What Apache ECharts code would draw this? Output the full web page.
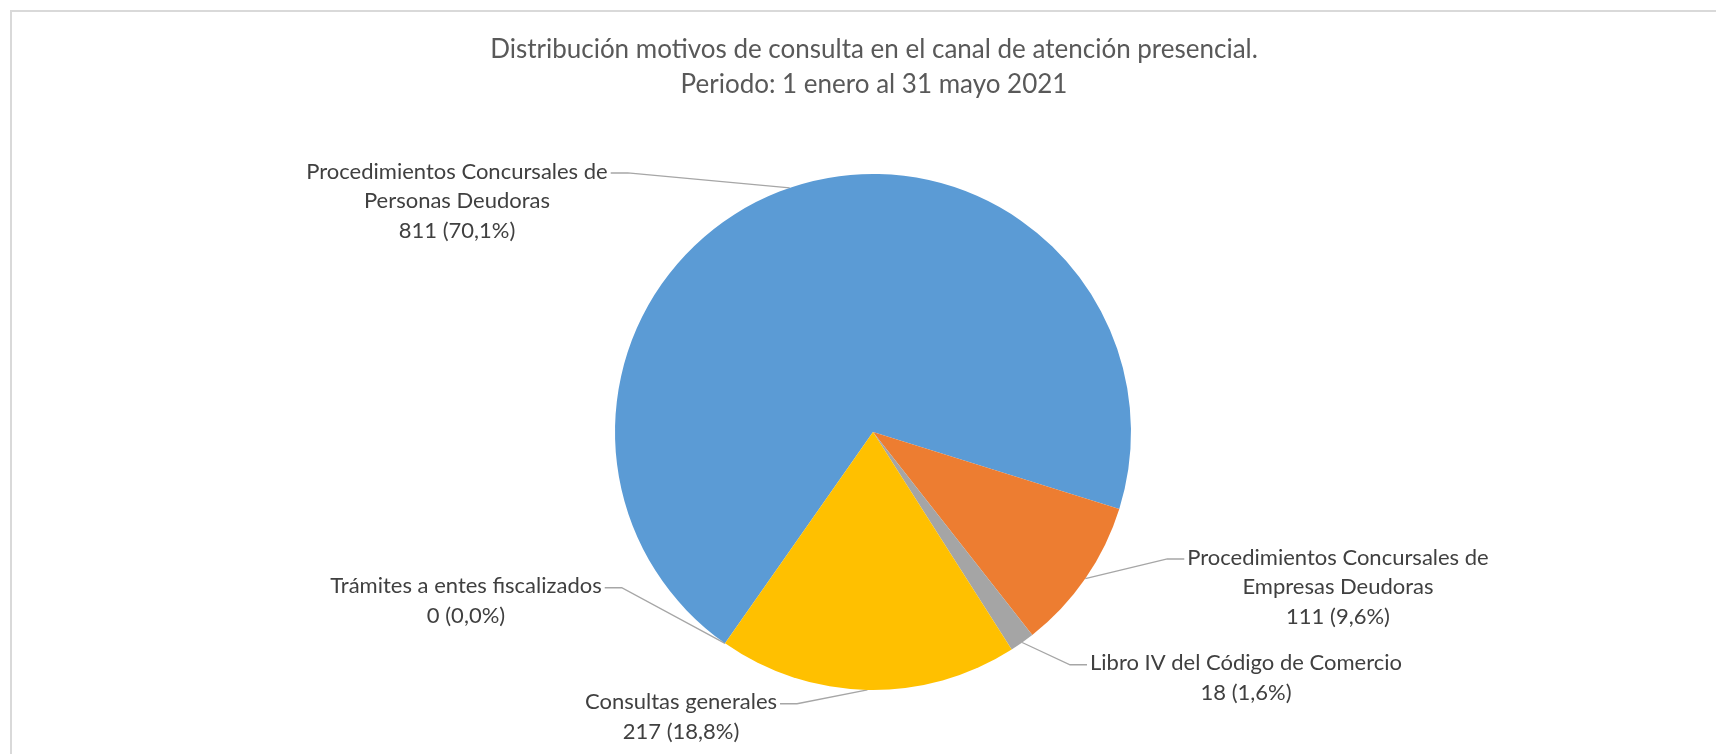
<!DOCTYPE html>
<html>
<head>
<meta charset="utf-8">
<script src="https://cdn.jsdelivr.net/npm/echarts@6/dist/echarts.min.js"></script>
<style>
    html, body { margin: 0; padding: 0; background: #fff; }
    #chart { width: 1716px; height: 754px; }
</style>
</head>
<body>
<div id="chart"></div>
<script>
// datos del gráfico
const categories = [
    'Procedimientos Concursales de Personas Deudoras',
    'Procedimientos Concursales de Empresas Deudoras',
    'Libro IV del Código de Comercio',
    'Consultas generales',
    'Trámites a entes fiscalizados'
]
const values = [811, 111, 18, 217, 0]
const colors = ['#5B9BD5', '#ED7D31', '#A5A5A5', '#FFC000', '#4472C4']

// posición de cada etiqueta (centro del bloque de texto) y lado del conector
const labelPos = [
    { x: 457, y: 201, side: 'right' },
    { x: 1338, y: 587, side: 'left' },
    { x: 1246, y: 678, side: 'left' },
    { x: 681, y: 717, side: 'right' },
    { x: 466, y: 601, side: 'right' }
]

const FONT = 'Lato'
const LINE_H = 29.5

let myChart = echarts.init(document.getElementById('chart'))

let pieData = []
categories.forEach((name, i) => {
    pieData.push({ name: name, value: values[i], itemStyle: { color: colors[i] } })
})

let option = {
    animation: false,
    title: {
        text: 'Distribución motivos de consulta en el canal de atención presencial.\nPeriodo: 1 enero al 31 mayo 2021',
        left: 874,
        top: 32,
        padding: 0,
        textAlign: 'center',
        textStyle: {
            fontFamily: FONT,
            fontSize: 26,
            fontWeight: 'normal',
            color: '#595959',
            lineHeight: 35
        }
    },
    graphic: [
        {
            type: 'rect',
            shape: { x: 11, y: 11, width: 1800, height: 900 },
            style: { fill: 'none', stroke: '#D9D9D9', lineWidth: 2 },
            silent: true
        }
    ],
    series: [
        {
            name: 'Motivos',
            type: 'pie',
            center: [873, 432],
            radius: 258,
            startAngle: 235, // primer sector empieza a 215° (sentido horario desde arriba)
            clockwise: true,
            avoidLabelOverlap: false,
            itemStyle: { borderWidth: 0 },
            label: {
                show: true,
                position: 'outside',
                fontFamily: FONT,
                fontSize: 22,
                color: '#404040',
                lineHeight: LINE_H,
                align: 'center',
                formatter: p => {
                    let name = p.name.replace(/ de (Personas|Empresas)/, ' de\n$1')
                    let pct = p.percent.toFixed(1).replace('.', ',')
                    return name + '\n' + p.value + ' (' + pct + '%)'
                }
            },
            labelLine: {
                show: true,
                length: 20,
                length2: 10,
                lineStyle: { color: '#A6A6A6', width: 1.3 }
            },
            labelLayout: params => {
                let pos = labelPos[params.dataIndex]
                let w = params.labelRect.width
                let h = params.labelRect.height
                let top = pos.y - h / 2
                let firstY = top + LINE_H * 0.55
                let anchor = params.labelLinePoints ? params.labelLinePoints[0] : [pos.x, pos.y]
                let p2, p1
                if (pos.side === 'right') {
                    p2 = [pos.x + w / 2 + 3, firstY]
                    p1 = [p2[0] + 17, firstY]
                } else {
                    p2 = [pos.x - w / 2 - 3, firstY]
                    p1 = [p2[0] - 17, firstY]
                }
                return {
                    x: pos.x,
                    y: pos.y,
                    align: 'center',
                    verticalAlign: 'middle',
                    labelLinePoints: [anchor, p1, p2]
                }
            },
            data: pieData
        }
    ]
}
myChart.setOption(option)
</script>
</body>
</html>
